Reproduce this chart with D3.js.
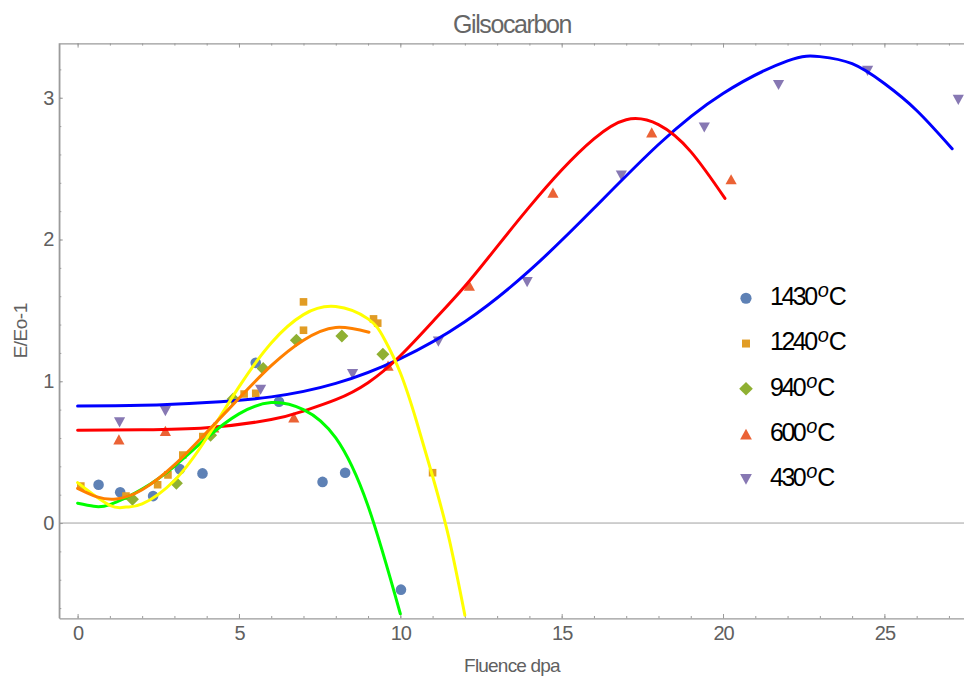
<!DOCTYPE html>
<html>
<head>
<meta charset="utf-8">
<script src="https://cdn.jsdelivr.net/npm/d3@7/dist/d3.min.js"></script>
<style>
  html, body { margin: 0; padding: 0; background: #fff; }
  svg { display: block; font-family: "Liberation Sans", Arial, sans-serif; }
</style>
</head>
<body>
<svg id="chart" width="964" height="679"></svg>
<script>
// ---------- data ----------
const title = "Gilsocarbon";
const xLabel = "Fluence dpa";
const yLabel = "E/Eo-1";
const xMajorTicks = [0, 5, 10, 15, 20, 25];
const yMajorTicks = [0, 1, 2, 3];

const seriesNames = ["1430", "1240", "940", "600", "430"];

const pts1430 = [[0.65,0.27],[1.32,0.217],[2.34,0.19],[3.17,0.38],[3.87,0.35],[5.52,1.13],[6.24,0.856],[7.59,0.29],[8.29,0.355],[10.02,-0.47]];
const pts1240 = [[0.1,0.26],[1.5,0.19],[2.48,0.27],[2.8,0.34],[3.26,0.48],[3.88,0.61],[5.16,0.91],[5.52,0.915],[7.0,1.56],[7.0,1.36],[9.17,1.44],[9.3,1.41],[11.0,0.355]];
const pts940  = [[1.7,0.167],[3.06,0.28],[4.12,0.62],[4.82,0.875],[5.75,1.09],[6.78,1.29],[8.19,1.32],[9.46,1.19]];
const pts600  = [[1.28,0.59],[2.72,0.65],[4.22,0.675],[6.7,0.745],[9.62,1.11],[12.14,1.675],[14.73,2.33],[17.79,2.755],[20.25,2.425]];
const pts430  = [[1.3,0.71],[2.72,0.79],[5.67,0.94],[8.52,1.05],[11.18,1.28],[13.93,1.70],[16.85,2.45],[19.42,2.79],[21.72,3.09],[24.48,3.19],[27.29,2.985]];

// fitted curves
const fit1430 = [[0,0.14],[0.5,0.118],[1,0.13],[2,0.24],[3,0.40],[4,0.60],[5,0.77],[6,0.85],[7,0.80],[8,0.60],[9,0.12],[10,-0.64]];
const fit1240 = [[0,0.285],[1,0.125],[1.5,0.113],[2,0.135],[3,0.30],[4,0.60],[5,0.96],[6,1.27],[7,1.47],[8,1.527],[9,1.44],[9.5,1.30],[10,1.06],[10.5,0.72],[11,0.33],[11.5,-0.10],[12,-0.65]];
const fit940  = [[0,0.245],[0.6,0.185],[1.2,0.17],[2,0.235],[3,0.41],[4,0.64],[5,0.88],[6,1.11],[7,1.29],[8,1.38],[9.03,1.346]];
const fit600  = [[0,0.655],[2,0.658],[4,0.672],[6,0.73],[7,0.79],[8,0.87],[9,0.99],[10,1.18],[11,1.42],[12,1.67],[13,1.95],[14,2.23],[15,2.49],[16,2.71],[17,2.845],[18,2.81],[19,2.62],[20.06,2.29]];
const fit430  = [[0,0.826],[2,0.83],[4,0.85],[6,0.89],[8,0.985],[10,1.16],[12,1.42],[14,1.78],[16,2.22],[18,2.67],[20,3.03],[22,3.26],[23,3.29],[24,3.24],[25,3.10],[26,2.91],[27.1,2.64]];

// ---------- layout / style ----------
const W = 964, H = 679;
const plot = { left: 59.3, right: 964.1, top: 43.3, bottom: 618.3 };
const markerColors = { "1430": "#5e81b5", "1240": "#e19c24", "940": "#8fb032", "600": "#eb6235", "430": "#8778b3" };
const markerShape  = { "1430": "circle", "1240": "square", "940": "diamond", "600": "up", "430": "down" };
const points = { "1430": pts1430, "1240": pts1240, "940": pts940, "600": pts600, "430": pts430 };
const fits = [
  { data: fit430,  color: "#0000ff" },
  { data: fit600,  color: "#ff0000" },
  { data: fit1430, color: "#00ff00" },
  { data: fit1240, color: "#ffff00" },
  { data: fit940,  color: "#ff8000" }
];

const svg = d3.select("#chart");
const x = d3.scaleLinear().domain([-0.567, 27.47]).range([plot.left, plot.right]);
const y = d3.scaleLinear().domain([-0.672, 3.384]).range([plot.bottom, plot.top]);

const frameColor = "#9a9a9a";
const labelColor = "#606060";

// clip
svg.append("defs").append("clipPath").attr("id", "clip")
  .append("rect").attr("x", plot.left).attr("y", plot.top)
  .attr("width", plot.right - plot.left).attr("height", plot.bottom - plot.top);

// zero axis line
svg.append("line")
  .attr("x1", plot.left).attr("x2", plot.right)
  .attr("y1", y(0)).attr("y2", y(0))
  .attr("stroke", "#a0a0a0").attr("stroke-width", 1);

// axes
const xMinor = d3.range(0, 28, 1);
const yMinor = d3.range(-0.6, 3.4, 0.2).map(v => +v.toFixed(1));

function styleAxis(g) {
  g.select(".domain").attr("stroke", frameColor).attr("stroke-width", 1.3);
  g.selectAll(".tick line").attr("stroke", frameColor).attr("stroke-width", 1);
  g.selectAll(".tick text").attr("fill", labelColor).style("font-size", "20px").style("letter-spacing", "-1px");
}

// bottom
svg.append("g").attr("transform", `translate(0,${plot.bottom})`)
  .call(d3.axisBottom(x).tickValues(xMinor).tickSizeInner(-2.3).tickSizeOuter(0).tickFormat(""))
  .call(styleAxis);
svg.append("g").attr("transform", `translate(0,${plot.bottom})`)
  .call(d3.axisBottom(x).tickValues(xMajorTicks).tickSizeInner(-4.3).tickSizeOuter(0).tickPadding(8).tickFormat(d3.format("d")))
  .call(styleAxis)
  .call(g => g.select(".domain").remove());
// top
svg.append("g").attr("transform", `translate(0,${plot.top})`)
  .call(d3.axisTop(x).tickValues(xMinor).tickSizeInner(-2.3).tickSizeOuter(0).tickFormat(""))
  .call(styleAxis);
svg.append("g").attr("transform", `translate(0,${plot.top})`)
  .call(d3.axisTop(x).tickValues(xMajorTicks).tickSizeInner(-4.3).tickSizeOuter(0).tickFormat(""))
  .call(styleAxis)
  .call(g => g.select(".domain").remove());
// left
svg.append("g").attr("transform", `translate(${plot.left},0)`)
  .call(d3.axisLeft(y).tickValues(yMinor).tickSizeInner(-2).tickSizeOuter(0).tickFormat(""))
  .call(styleAxis);
svg.append("g").attr("transform", `translate(${plot.left},0)`)
  .call(d3.axisLeft(y).tickValues(yMajorTicks).tickSizeInner(-3.5).tickSizeOuter(0).tickPadding(6).tickFormat(d3.format("d")))
  .call(styleAxis)
  .call(g => g.select(".domain").remove());

// markers
function markerPath(shape, s) {
  const p = d3.path();
  if (shape === "circle") { p.arc(0, 0, 5.3 * s, 0, 2 * Math.PI); }
  else if (shape === "square") { const h = 3.8 * s; p.rect(-h, -h, 2 * h, 2 * h); }
  else if (shape === "diamond") { const h = 6.5 * s; p.moveTo(0, -h); p.lineTo(h, 0); p.lineTo(0, h); p.lineTo(-h, 0); p.closePath(); }
  else if (shape === "up") { const w = 5.6 * s, h = 5.1 * s; p.moveTo(0, -h); p.lineTo(w, h); p.lineTo(-w, h); p.closePath(); }
  else if (shape === "down") { const w = 5.6 * s, h = 5.1 * s; p.moveTo(0, h); p.lineTo(w, -h); p.lineTo(-w, -h); p.closePath(); }
  return p.toString();
}

const ptsG = svg.append("g").attr("clip-path", "url(#clip)");
seriesNames.forEach(name => {
  ptsG.selectAll(null).data(points[name]).enter().append("path")
    .attr("d", markerPath(markerShape[name], 1))
    .attr("transform", d => `translate(${x(d[0])},${y(d[1])})`)
    .attr("fill", markerColors[name]);
});

// fitted curves
const line = d3.line().x(d => x(d[0])).y(d => y(d[1])).curve(d3.curveNatural);
const linesG = svg.append("g").attr("clip-path", "url(#clip)");
fits.forEach(f => {
  linesG.append("path").attr("d", line(f.data))
    .attr("fill", "none").attr("stroke", f.color).attr("stroke-width", 3)
    .attr("stroke-linecap", "round");
});

// frame left line (over everything)
svg.append("line").attr("x1", plot.left).attr("x2", plot.left).attr("y1", plot.top).attr("y2", plot.bottom)
  .attr("stroke", frameColor).attr("stroke-width", 1.3);

// title and labels
svg.append("text").attr("x", 512).attr("y", 33).attr("text-anchor", "middle")
  .attr("fill", "#666").style("font-size", "25px").style("letter-spacing", "-1.4px").text(title);
svg.append("text").attr("x", 512).attr("y", 672).attr("text-anchor", "middle")
  .attr("fill", labelColor).style("font-size", "19px").style("letter-spacing", "-0.8px").text(xLabel);
svg.append("text").attr("transform", `translate(27,${(plot.top + plot.bottom) / 2}) rotate(-90)`)
  .attr("text-anchor", "middle")
  .attr("fill", labelColor).style("font-size", "19px").style("letter-spacing", "-0.5px").text(yLabel);

// legend
const legend = svg.append("g");
seriesNames.forEach((name, i) => {
  const cy = 298.3 + i * 45.25;
  legend.append("path").attr("d", markerPath(markerShape[name], 1.05))
    .attr("transform", `translate(746,${cy})`).attr("fill", markerColors[name]);
  const t = legend.append("text").attr("x", 770).attr("y", cy + 6.7).attr("fill", "#000")
    .style("font-size", "25px");
  t.append("tspan").style("letter-spacing", "-2.5px").text(name);
  t.append("tspan").attr("dx", 2).attr("dy", -8).style("font-size", "20px").style("font-style", "italic").text("o");
  t.append("tspan").attr("dy", 8).style("letter-spacing", "-1px").text("C");
});
</script>
</body>
</html>
